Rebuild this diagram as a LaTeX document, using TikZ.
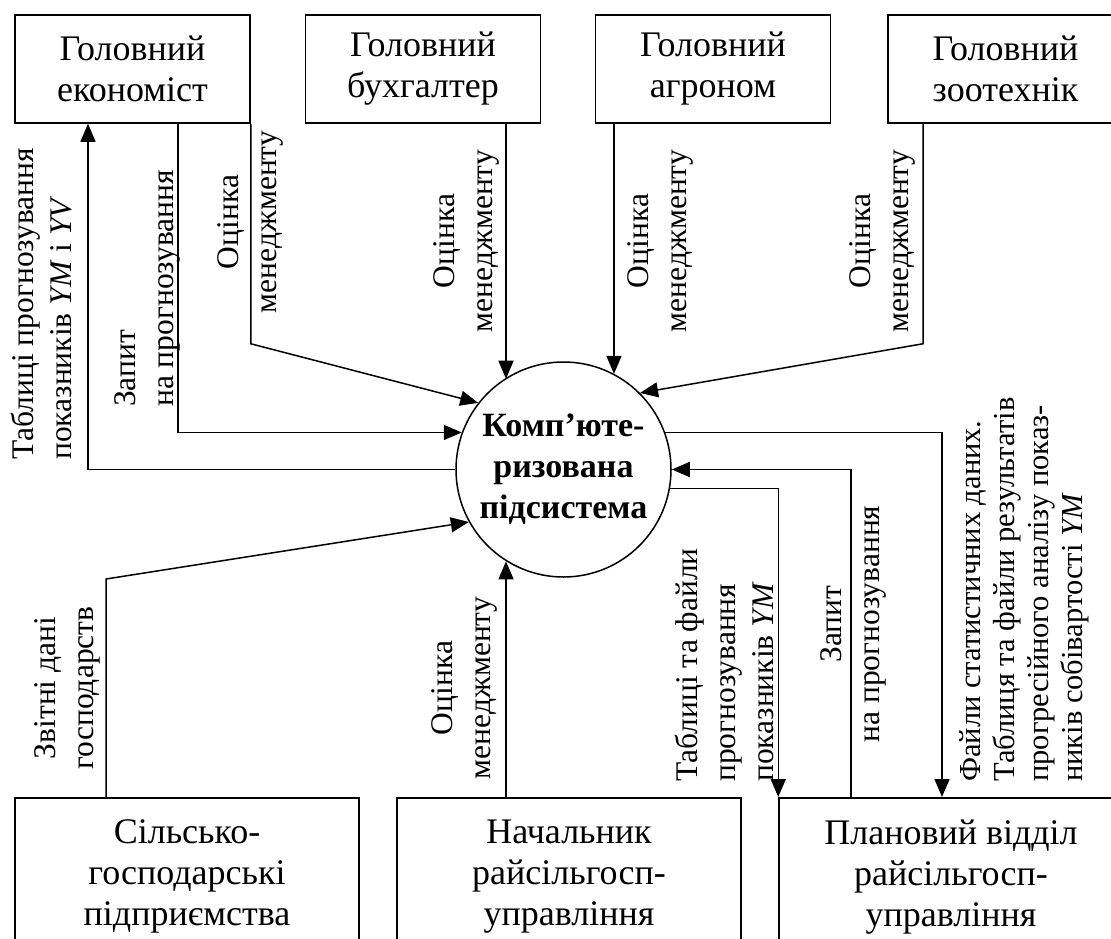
\documentclass[tikz,border=0pt]{standalone}
\usepackage{fontspec}
\setmainfont{Liberation Serif}
\usetikzlibrary{arrows.meta,calc}
\begin{document}
\begin{tikzpicture}[x=1pt,y=-1pt,
  box/.style={draw,line width=1.5pt,inner sep=0pt,align=center,font=\fontsize{36}{41}\selectfont},
  lbl/.style={rotate=90,inner sep=0pt,font=\fontsize{31.5}{38}\selectfont},
  arr/.style={line width=1.5pt,-{Triangle[length=18pt,width=15pt]}}]
\useasboundingbox (0,0) rectangle (1111,938);
\clip (0,0) rectangle (1111,938);
% top boxes
\node[box,minimum width=235pt,minimum height=108pt] (b1) at (132.5,69) {Головний\\економіст};
\node[box,minimum width=235pt,minimum height=108pt] (b2) at (423,69) {Головний\\бухгалтер};
\node[box,minimum width=235pt,minimum height=108pt] (b3) at (713,69) {Головний\\агроном};
\node[box,minimum width=235pt,minimum height=108pt] (b4) at (1005.5,69) {Головний\\зоотехнік};
% central process
\node[circle,draw,line width=1.5pt,minimum size=215pt,inner sep=0pt,align=center,
      font=\bfseries\fontsize{34}{41}\selectfont] (c) at (563.5,469.5) {Комп’юте-\\ризована\\підсистема};
% bottom boxes
\node[box,anchor=north,minimum width=344pt,inner ysep=22pt] (bb1) at (187,797) {Сільсько-\\господарські\\підприємства};
\node[box,anchor=north,minimum width=344pt,inner ysep=22pt] (bb2) at (569,797) {Начальник\\райсільгосп-\\управління};
\node[box,anchor=north,minimum width=344pt,inner ysep=22pt] (bb3) at (951,797) {Плановий відділ\\райсільгосп-\\управління};
% connectors
\draw[arr] (c.west) -| ([xshift=-44.5pt]b1.south);
\draw[arr] ([xshift=45.5pt]b1.south) |- (c.160);
\draw[arr] (b1.south east) -- ++(0,220) -- (c.142);
\draw[arr] ([xshift=83pt]b2.south) -- ([xshift=83pt]b2.south |- c.123);
\draw[arr] ([xshift=-99pt]b3.south) -- ([xshift=-99pt]b3.south |- c.62);
\draw[arr] ([xshift=-82.5pt]b4.south) -- ++(0,220) -- (c.45);
\draw[arr] ([xshift=-81pt]bb1.north) -- ++(0,-218) -- (c.209);
\draw[arr] ([xshift=-63pt]bb2.north) -- ([xshift=-63pt]bb2.north |- c.238);
\draw[arr] (c.-10) -| (bb3.north west);
\draw[arr] ([xshift=-100pt]bb3.north) |- (c.east);
\draw[arr] (c.20) -| ([xshift=-9pt]bb3.north);
% labels
\node[lbl,anchor=west,align=left] (l1) at (41,460) {Таблиці прогнозування\\показників \textit{YM} і \textit{YV}};
\node[lbl,anchor=west,align=left] (l2) at (147,407) {Запит\\на прогнозування};
\node[lbl,align=center] (l3) at (250,222) {Оцінка\\менеджменту};
\node[lbl,align=center] (l4) at (466,241) {Оцінка\\менеджменту};
\node[lbl,align=center] (l5) at (660,241) {Оцінка\\менеджменту};
\node[lbl,align=center] (l6) at (882,241) {Оцінка\\менеджменту};
\node[lbl,align=center] (l7) at (67,688) {Звітні дані\\господарств};
\node[lbl,align=center] (l8) at (464,688) {Оцінка\\менеджменту};
\node[lbl,anchor=west,align=left] (l9) at (724,782) {Таблиці та файли\\прогнозування\\показників \textit{YM}};
\node[lbl,align=center] (l10) at (853,624) {Запит\\на прогнозування};
\node[lbl,anchor=west,align=left,font=\fontsize{30.5}{34}\selectfont] (l11) at (1024,782) {Файли статистичних даних.\\Таблиця та файли результатів\\прогресійного аналізу показ-\\ників собівартості \textit{YM}};
\end{tikzpicture}
\end{document}
